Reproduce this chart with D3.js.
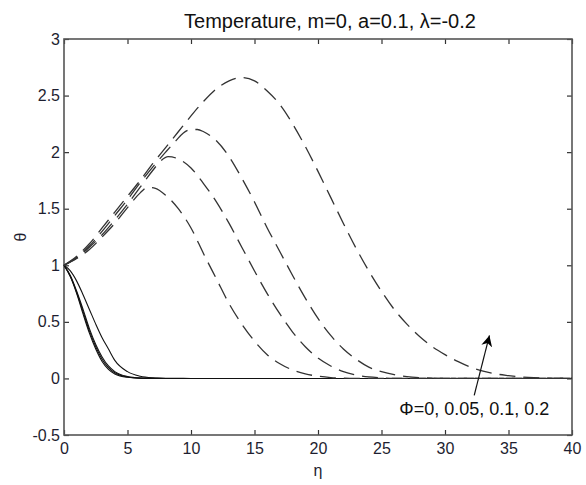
<!DOCTYPE html>
<html>
<head>
<meta charset="utf-8">
<script src="https://cdn.jsdelivr.net/npm/d3@7"></script>
<style>
  body { margin: 0; background: #fff; }
  text { font-family: "Liberation Sans", Arial, sans-serif; }
</style>
</head>
<body>
<div id="chart"></div>
<script>
// tick labels
const etaTicks = [0, 5, 10, 15, 20, 25, 30, 35, 40];
const thetaTicks = [-0.5, 0, 0.5, 1, 1.5, 2, 2.5, 3];

// solid curves (first solution), shared eta grid
const etaSolid = [0, 0.5, 1, 1.5, 2, 2.5, 3, 3.5, 4, 5, 6, 7, 8, 10, 40];
const solid1 = [1, 0.9, 0.75, 0.57, 0.40, 0.26, 0.15, 0.08, 0.04, 0.01, 0.002, 0, 0, 0, 0];
const solid2 = [1, 0.9, 0.76, 0.59, 0.42, 0.28, 0.17, 0.095, 0.05, 0.013, 0.003, 0.001, 0, 0, 0];
const solid3 = [1, 0.91, 0.77, 0.61, 0.44, 0.30, 0.19, 0.11, 0.06, 0.017, 0.004, 0.001, 0, 0, 0];
const solid4 = [1, 0.95, 0.86, 0.74, 0.61, 0.48, 0.36, 0.26, 0.16, 0.06, 0.02, 0.006, 0.002, 0, 0];

// dashed curves (second solution)
const etaDash1 = [0, 1, 2, 3, 4, 5, 6, 6.6, 7.2, 8, 9, 10, 11, 12, 13, 14, 15, 16, 17, 18, 19, 20, 21, 22, 23, 40];
const dash1 = [1, 1.06, 1.14, 1.25, 1.37, 1.51, 1.64, 1.69, 1.68, 1.62, 1.5, 1.33, 1.1, 0.88, 0.66, 0.48, 0.33, 0.21, 0.13, 0.075, 0.04, 0.02, 0.008, 0.002, 0, 0];

const etaDash2 = [0, 1, 2, 3, 4, 5, 6, 7, 7.6, 8.2, 9, 10, 11, 12, 13, 14, 15, 16, 17, 18, 19, 20, 21, 22, 23, 24, 25, 26, 40];
const dash2 = [1, 1.065, 1.16, 1.27, 1.4, 1.54, 1.69, 1.84, 1.92, 1.96, 1.94, 1.86, 1.72, 1.56, 1.37, 1.16, 0.95, 0.75, 0.57, 0.41, 0.28, 0.18, 0.11, 0.06, 0.03, 0.013, 0.005, 0, 0];

const etaDash3 = [0, 1, 2, 3, 4, 5, 6, 7, 8, 8.8, 9.4, 10, 10.5, 11, 12, 13, 14, 15, 16, 17, 18, 19, 20, 21, 22, 23, 24, 25, 26, 27, 28, 29, 30, 40];
const dash3 = [1, 1.07, 1.17, 1.3, 1.44, 1.58, 1.73, 1.87, 2.0, 2.1, 2.17, 2.2, 2.2, 2.18, 2.1, 1.96, 1.77, 1.56, 1.33, 1.12, 0.91, 0.71, 0.53, 0.38, 0.26, 0.17, 0.1, 0.06, 0.033, 0.016, 0.007, 0.002, 0, 0];

const etaDash4 = [0, 1, 2, 3, 4, 5, 6, 7, 8, 9, 10, 11, 12, 13, 14, 15, 16, 17, 18, 19, 20, 21, 22, 23, 24, 25, 26, 27, 28, 29, 30, 31, 32, 33, 34, 35, 36, 37, 38, 39, 40];
const dash4 = [1, 1.08, 1.19, 1.33, 1.47, 1.61, 1.75, 1.9, 2.04, 2.18, 2.32, 2.45, 2.56, 2.63, 2.66, 2.63, 2.54, 2.42, 2.25, 2.05, 1.83, 1.6, 1.37, 1.15, 0.95, 0.77, 0.61, 0.48, 0.37, 0.28, 0.21, 0.15, 0.1, 0.065, 0.04, 0.025, 0.013, 0.006, 0.002, 0, 0];

const titleText = "Temperature, m=0, a=0.1, \u03bb=-0.2";
const noteText = "\u03a6=0, 0.05, 0.1, 0.2";
// arrow from the note up to the curves: [eta, theta]
const arrowFrom = [32.3, -0.15];
const arrowTo = [33.5, 0.38];

var margin = {top: 39, right: 14, bottom: 50, left: 64},
    fullW = 586, fullH = 485,
    width = fullW - margin.left - margin.right,
    height = fullH - margin.top - margin.bottom;

const svg = d3.select("#chart")
  .append("svg")
    .attr("width", fullW)
    .attr("height", fullH);

svg.append("rect").attr("width", fullW).attr("height", fullH).attr("fill", "#fff");

const g = svg.append("g")
    .attr("transform", "translate(" + margin.left + "," + margin.top + ")");

var x = d3.scaleLinear().domain([0, 40]).range([0, width]);
var y = d3.scaleLinear().domain([-0.5, 3]).range([height, 0]);

// axes, ticks pointing inward
const fmt = d => String(d);
g.append("g")
  .attr("transform", "translate(0," + height + ")")
  .call(d3.axisBottom(x).tickValues(etaTicks).tickFormat(fmt).tickSizeInner(-5).tickSizeOuter(0).tickPadding(8))
  .call(a => a.selectAll("text").attr("font-size", 16).attr("fill", "#1e1e30"));
g.append("g")
  .call(d3.axisLeft(y).tickValues(thetaTicks).tickFormat(fmt).tickSizeInner(-5).tickSizeOuter(0).tickPadding(4))
  .call(a => a.selectAll("text").attr("font-size", 16).attr("fill", "#1e1e30"));
g.append("g")
  .call(d3.axisTop(x).tickValues(etaTicks).tickFormat("").tickSizeInner(-5).tickSizeOuter(0));
g.append("g")
  .attr("transform", "translate(" + width + ",0)")
  .call(d3.axisRight(y).tickValues(thetaTicks).tickFormat("").tickSizeInner(-5).tickSizeOuter(0));
g.selectAll(".domain").attr("stroke", "none");
g.selectAll(".tick line").attr("stroke", "#333").attr("stroke-width", 1.2);

g.append("rect")
  .attr("width", width).attr("height", height)
  .attr("fill", "none").attr("stroke", "#555").attr("stroke-width", 1.6);

const line = d3.line()
  .x(d => x(d[0]))
  .y(d => y(d[1]))
  .curve(d3.curveMonotoneX);

const solids = [solid1, solid2, solid3, solid4];
solids.forEach(s => {
  g.append("path")
    .datum(etaSolid.map((e, i) => [e, s[i]]))
    .attr("d", line)
    .attr("fill", "none")
    .attr("stroke", "#111")
    .attr("stroke-width", 1.1);
});

const dashed = [[etaDash1, dash1], [etaDash2, dash2], [etaDash3, dash3], [etaDash4, dash4]];
dashed.forEach(([es, ts]) => {
  g.append("path")
    .datum(es.map((e, i) => [e, ts[i]]))
    .attr("d", line)
    .attr("fill", "none")
    .attr("stroke", "#333")
    .attr("stroke-width", 1.3)
    .attr("stroke-dasharray", "16,8");
});

// arrow annotation
svg.append("defs").append("marker")
  .attr("id", "head")
  .attr("viewBox", "0 0 10 10")
  .attr("refX", 10).attr("refY", 5)
  .attr("markerWidth", 11).attr("markerHeight", 11)
  .attr("markerUnits", "userSpaceOnUse")
  .attr("orient", "auto")
  .append("path")
    .attr("d", "M0,0 L10,5 L0,10 L3,5 Z")
    .attr("fill", "#000");

g.append("line")
  .attr("x1", x(arrowFrom[0])).attr("y1", y(arrowFrom[1]))
  .attr("x2", x(arrowTo[0])).attr("y2", y(arrowTo[1]))
  .attr("stroke", "#111").attr("stroke-width", 1.2)
  .attr("marker-end", "url(#head)");

g.append("text")
  .attr("x", x(26.4)).attr("y", y(-0.32))
  .attr("font-size", 18)
  .attr("fill", "#111")
  .text(noteText);

// titles
svg.append("text")
  .attr("x", 330).attr("y", 28)
  .attr("text-anchor", "middle")
  .attr("font-size", 20)
  .attr("fill", "#111")
  .text(titleText);

svg.append("text")
  .attr("x", margin.left + width / 2).attr("y", 476)
  .attr("text-anchor", "middle")
  .attr("font-size", 16)
  .attr("fill", "#1e1e30")
  .text("\u03b7");

svg.append("text")
  .attr("transform", "translate(26," + (margin.top + height / 2) + ") rotate(-90)")
  .attr("text-anchor", "middle")
  .attr("font-size", 16)
  .attr("fill", "#1e1e30")
  .text("\u03b8");
</script>
</body>
</html>
